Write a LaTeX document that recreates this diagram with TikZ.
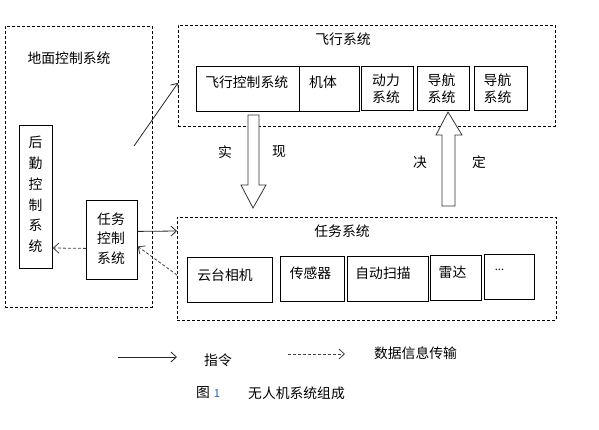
\documentclass[tikz,border=0pt]{standalone}
\usepackage{fontspec}
\setmainfont{Noto Sans CJK SC}
\usetikzlibrary{arrows.meta}
\definecolor{numblue}{RGB}{40,90,170}
\tikzset{
  dbox/.style={draw=black!85, line width=0.8pt, dash pattern=on 3pt off 2pt},
  sbox/.style={draw=black, line width=0.8pt, inner sep=0pt, anchor=north west},
  txt/.style={font=\fontsize{13.8}{15}\selectfont, inner sep=0pt},
  cmd/.style={draw=black!85, line width=0.8pt, -{Straight Barb[length=5.5pt,width=10pt]}},
  dat/.style={draw=black!75, line width=0.8pt, dash pattern=on 3pt off 2pt, -{Straight Barb[length=5.5pt,width=10pt]}},
  hollow/.style={draw=black!80, line width=0.8pt, fill=white},
}
\begin{document}
\begin{tikzpicture}[x=1pt,y=-1pt]
\useasboundingbox (0,0) rectangle (599,429);
% ground control
\node[dbox, sbox, minimum width=147pt, minimum height=281pt] (gc) at (5,26) {};
\node[txt] at (69,58) {地面控制系统};
\node[sbox, minimum width=33pt, minimum height=143pt] (lg) at (19,125) {};
\node[txt, align=center, font=\fontsize{13.8}{20.7}\selectfont] at (35.5,194.5) {后\\勤\\控\\制\\系\\统};
\node[sbox, minimum width=51pt, minimum height=79pt] (mc) at (86,200) {};
\node[txt, align=center, font=\fontsize{13.8}{19.5}\selectfont] at (111,238.5) {任务\\控制\\系统};
% flight system
\node[dbox, sbox, minimum width=377pt, minimum height=101pt] (fs) at (178,25) {};
\node[txt] at (343,39) {飞行系统};
\node[sbox, minimum width=103pt, minimum height=45pt] (fc) at (196,66) {};
\node[txt] at (246.7,82) {飞行控制系统};
\node[sbox, minimum width=60pt, minimum height=45pt] (jt) at (299,66) {};
\node[txt, anchor=west] at (309,82) {机体};
\node[sbox, minimum width=52pt, minimum height=44pt] (dl) at (361,66) {};
\node[txt, align=center, font=\fontsize{13.8}{17}\selectfont] at (386,88.5) {动力\\系统};
\node[sbox, minimum width=52pt, minimum height=44pt] (dh1) at (417,66) {};
\node[txt, align=center, font=\fontsize{13.8}{17}\selectfont] at (441.5,88.5) {导航\\系统};
\node[sbox, minimum width=53pt, minimum height=44pt] (dh2) at (474,66) {};
\node[txt, align=center, font=\fontsize{13.8}{17}\selectfont] at (497.5,88.5) {导航\\系统};
% mission system
\node[dbox, sbox, minimum width=379pt, minimum height=103pt] (ms) at (177,217) {};
\node[txt] at (342,231) {任务系统};
\node[sbox, minimum width=85pt, minimum height=45pt] (yt) at (187,257) {};
\node[txt] at (225,275) {云台相机};
\node[sbox, minimum width=64pt, minimum height=45pt] (cg) at (280,256) {};
\node[txt] at (310.5,273) {传感器};
\node[sbox, minimum width=81pt, minimum height=45pt] (zd) at (347,256) {};
\node[txt] at (383,273) {自动扫描};
\node[sbox, minimum width=51pt, minimum height=45pt] (ld) at (430,255) {};
\node[txt] at (452.5,272) {雷达};
\node[sbox, minimum width=50pt, minimum height=45pt] (dots) at (484,254) {};
\node[txt, font=\fontsize{11}{12}\selectfont] at (499.5,270) {...};
% hollow arrows
\draw[hollow] (248,115) -- (259,115) -- (259,185) -- (266,185) -- (253,208) -- (241,185) -- (248,185) -- cycle;
\node[txt] at (225,152) {实};
\node[txt] at (279,152) {现};
\draw[hollow] (442,206) -- (455,206) -- (455,135) -- (462,135) -- (448,112) -- (436,135) -- (442,135) -- cycle;
\node[txt] at (420,162) {决};
\node[txt] at (479,162) {定};
% connectors
\coordinate (a0) at (134,146);
\draw[cmd] (a0) -- ([yshift=-7pt]fs.west);
\draw[cmd] ([yshift=8.5pt]mc.east) -- (ms.west |- 0,231);
\draw[dat] (ms.west |- 0,275) -- ([yshift=-6.5pt]mc.east);
\draw[dat] ([yshift=-8.5pt]mc.west) -- (lg.east |- 0,248);
% legend
\coordinate (l1a) at (118,357); \coordinate (l1b) at (177,357);
\draw[cmd] (l1a) -- (l1b);
\node[txt] at (218,360) {指令};
\coordinate (l2a) at (288,354); \coordinate (l2b) at (345,354);
\draw[dat] (l2a) -- (l2b);
\node[txt] at (415.5,353) {数据信息传输};
% caption
\node[txt] at (203,393) {图};
\node[txt, text=numblue, font=\fontsize{11}{12}\selectfont] at (217,393.5) {1};
\node[txt] at (296.5,393) {无人机系统组成};
\end{tikzpicture}
\end{document}
